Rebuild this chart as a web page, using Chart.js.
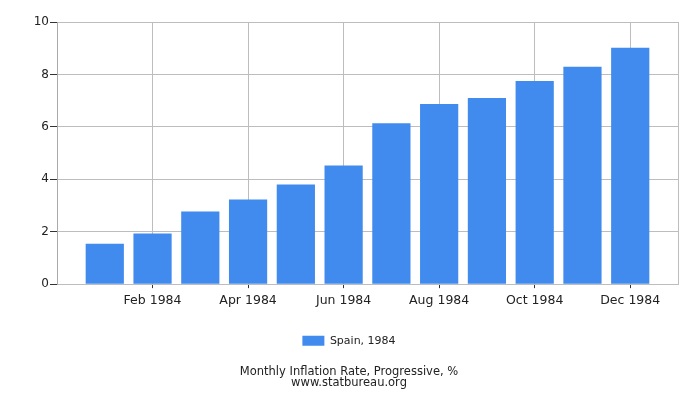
<!DOCTYPE html>
<html>
  <head>
    <title>Monthly Inflation Rate, Spain 1984</title>
    <script src="https://cdn.jsdelivr.net/npm/chart.js"></script>
    <style>
      body {
        margin: 0;
        padding: 0;
        background: #fff;
      }
      #chart-container {
        width: 700px;
        height: 400px;
      }
    </style>
  </head>
  <body>
    <div id="chart-container">
      <canvas id="inflationChart"></canvas>
    </div>
    <script>
      // --- Data ---
      const MONTHS = ["Jan 1984", "Feb 1984", "Mar 1984", "Apr 1984", "May 1984", "Jun 1984",
                      "Jul 1984", "Aug 1984", "Sep 1984", "Oct 1984", "Nov 1984", "Dec 1984"];
      const SPAIN_1984 = [1.54, 1.93, 2.77, 3.23, 3.80, 4.53, 6.14, 6.87, 7.10, 7.75, 8.29, 9.02];
      const X_TICK_INDEXES = [1, 3, 5, 7, 9, 11];   // Feb, Apr, Jun, Aug, Oct, Dec
      const Y_TICKS = [0, 2, 4, 6, 8, 10];
      const SERIES_LABEL = "Spain, 1984";
      const TITLE_LINES = ["Monthly Inflation Rate, Progressive, %", "www.statbureau.org"];

      const BAR_COLOR = "#418bee";
      const GRID_COLOR = "#bdbdbd";
      const FONT = "'DejaVu Sans', Verdana, sans-serif";

      Chart.defaults.font.family = FONT;
      Chart.defaults.color = "#222";

      // x is a linear index axis padded by one month on each side
      const points = SPAIN_1984.map((v, i) => ({ x: i, y: v }));

      const ctx = document.getElementById('inflationChart').getContext('2d');
      new Chart(ctx, {
        type: 'bar',
        data: {
          datasets: [{
            label: SERIES_LABEL,
            data: points,
            backgroundColor: BAR_COLOR,
            borderWidth: 0,
            barPercentage: 1.0,
            categoryPercentage: 0.8
          }]
        },
        options: {
          responsive: true,
          maintainAspectRatio: false,
          animation: false,
          layout: {
            padding: { left: 20, right: 22, top: 22, bottom: 12 }
          },
          plugins: {
            tooltip: { enabled: false },
            legend: {
              position: 'bottom',
              labels: {
                boxWidth: 22,
                boxHeight: 10,
                padding: 22,
                font: { size: 11 },
                color: "#222"
              }
            },
            title: {
              display: true,
              position: 'bottom',
              text: TITLE_LINES,
              color: "#222",
              font: { size: 11.5, weight: 'normal', lineHeight: 0.95 },
              padding: { top: 10, bottom: 0 }
            }
          },
          scales: {
            x: {
              type: 'linear',
              min: -1,
              max: 12,
              offset: false,
              afterBuildTicks: scale => {
                scale.ticks = X_TICK_INDEXES.concat([12]).map(v => ({ value: v }));
              },
              ticks: {
                autoSkip: false,
                maxRotation: 0,
                font: { size: 12.5 },
                color: "#222",
                padding: 5,
                callback: value => (MONTHS[value] !== undefined ? MONTHS[value] : "")
              },
              grid: {
                offset: false,
                color: GRID_COLOR,
                tickLength: 4,
                tickColor: c => (c.tick && c.tick.value === 12 ? 'rgba(0,0,0,0)' : '#333')
              },
              border: { color: GRID_COLOR }
            },
            y: {
              min: 0,
              max: 10,
              afterBuildTicks: scale => {
                scale.ticks = Y_TICKS.map(v => ({ value: v }));
              },
              afterFit: scale => {
                scale.width = 37;
              },
              ticks: {
                font: { size: 12 },
                color: "#222",
                padding: 1
              },
              grid: {
                color: GRID_COLOR,
                tickLength: 7,
                tickColor: '#333'
              },
              border: { color: "#aaa" }
            }
          }
        }
      });
    </script>
  </body>
</html>
